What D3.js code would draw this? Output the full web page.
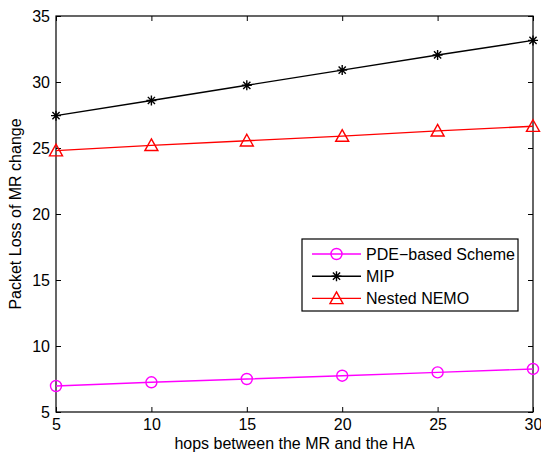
<!DOCTYPE html>
<html>
<head>
<meta charset="utf-8">
<script src="https://cdn.jsdelivr.net/npm/d3@7"></script>
<style>
  html, body { margin: 0; padding: 0; background: #fff; }
  svg { display: block; font-family: Arial, "Liberation Sans", Helvetica, sans-serif; }
</style>
</head>
<body>
<svg id="chart" width="541" height="454"></svg>
<script>
// Hop counts between the MR and the HA
const hops = [5, 10, 15, 20, 25, 30];
// Packet loss per scheme
const pdeScheme = [6.97, 7.25, 7.5, 7.75, 8.0, 8.26];
const mip = [27.45, 28.6, 29.75, 30.9, 32.05, 33.15];
const nestedNemo = [24.8, 25.2, 25.55, 25.9, 26.3, 26.65];
const xTicks = [5, 10, 15, 20, 25, 30];
const yTicks = [5, 10, 15, 20, 25, 30, 35];
const seriesNames = ["PDE\u2212based Scheme", "MIP", "Nested NEMO"];

const svg = d3.select("#chart");
const margin = { left: 56, top: 16, right: 8, bottom: 42 };
const W = 541, H = 454;
const x = d3.scaleLinear().domain([5, 30]).range([margin.left, W - margin.right]);
const y = d3.scaleLinear().domain([5, 35]).range([H - margin.bottom, margin.top]);

const series = [
  { name: seriesNames[0], values: pdeScheme, color: "#ff00ff", marker: "circle" },
  { name: seriesNames[1], values: mip, color: "#000000", marker: "star" },
  { name: seriesNames[2], values: nestedNemo, color: "#ff0000", marker: "triangle" }
];

const fontSize = 16;
const tickLen = 5;

// Axes: ticks pointing inward on all four sides
const axB = svg.append("g").attr("transform", `translate(0,${y(5)})`)
  .call(d3.axisBottom(x).tickValues(xTicks).tickSize(-tickLen).tickPadding(7).tickFormat(d3.format("d")));
const axT = svg.append("g").attr("transform", `translate(0,${y(35)})`)
  .call(d3.axisTop(x).tickValues(xTicks).tickSize(-tickLen).tickFormat(""));
const axL = svg.append("g").attr("transform", `translate(${x(5)},0)`)
  .call(d3.axisLeft(y).tickValues(yTicks).tickSize(-tickLen).tickPadding(6).tickFormat(d3.format("d")));
const axR = svg.append("g").attr("transform", `translate(${x(30)},0)`)
  .call(d3.axisRight(y).tickValues(yTicks).tickSize(-tickLen).tickFormat(""));

[axB, axT, axL, axR].forEach(g => {
  g.select(".domain").remove();
  g.selectAll(".tick line").attr("stroke", "#000").attr("stroke-width", 1);
  g.selectAll(".tick text").attr("fill", "#000").style("font-size", fontSize + "px");
});

// Frame
svg.append("rect")
  .attr("x", x(5)).attr("y", y(35))
  .attr("width", x(30) - x(5)).attr("height", y(5) - y(35))
  .attr("fill", "none").attr("stroke", "#000").attr("stroke-width", 1.2);

// Marker drawing
function drawMarker(g, type, color, cx, cy) {
  if (type === "circle") {
    g.append("circle").attr("cx", cx).attr("cy", cy).attr("r", 5.5)
      .attr("fill", "none").attr("stroke", color).attr("stroke-width", 1.4);
  } else if (type === "triangle") {
    const s = 6.5;
    g.append("path")
      .attr("d", `M${cx},${cy - s} L${cx + s},${cy + s * 0.8} L${cx - s},${cy + s * 0.8} Z`)
      .attr("fill", "none").attr("stroke", color).attr("stroke-width", 1.4);
  } else if (type === "star") {
    const r = 5;
    const d = r * 0.72;
    g.append("path")
      .attr("d", `M${cx - r},${cy} L${cx + r},${cy} M${cx},${cy - r} L${cx},${cy + r} M${cx - d},${cy - d} L${cx + d},${cy + d} M${cx - d},${cy + d} L${cx + d},${cy - d}`)
      .attr("stroke", color).attr("stroke-width", 1.4).attr("fill", "none");
  }
}

const line = d3.line().x((d, i) => x(hops[i])).y(d => y(d));

series.forEach(s => {
  const g = svg.append("g");
  g.append("path").datum(s.values).attr("d", line)
    .attr("fill", "none").attr("stroke", s.color).attr("stroke-width", 1.4);
  s.values.forEach((v, i) => drawMarker(g, s.marker, s.color, x(hops[i]), y(v)));
});

// Legend
const lg = svg.append("g");
const lx = 302, ly = 239, lw = 216, lh = 72;
lg.append("rect").attr("x", lx).attr("y", ly).attr("width", lw).attr("height", lh)
  .attr("fill", "#fff").attr("stroke", "#000").attr("stroke-width", 1.2);
series.forEach((s, i) => {
  const cy = 254 + i * 22.2;
  lg.append("line").attr("x1", 312).attr("x2", 361).attr("y1", cy).attr("y2", cy)
    .attr("stroke", s.color).attr("stroke-width", 1.4);
  drawMarker(lg, s.marker, s.color, 336.5, cy);
  lg.append("text").attr("x", 366).attr("y", cy).attr("dy", "0.36em")
    .style("font-size", fontSize + "px").attr("fill", "#000").text(s.name);
});

// Axis titles
svg.append("text").attr("x", (x(5) + x(30)) / 2).attr("y", 449)
  .attr("text-anchor", "middle").style("font-size", fontSize + "px").text("hops between the MR and the HA");
svg.append("text").attr("transform", `translate(21,${(y(5) + y(35)) / 2}) rotate(-90)`)
  .attr("text-anchor", "middle").style("font-size", fontSize + "px").text("Packet Loss of MR change");
</script>
</body>
</html>
